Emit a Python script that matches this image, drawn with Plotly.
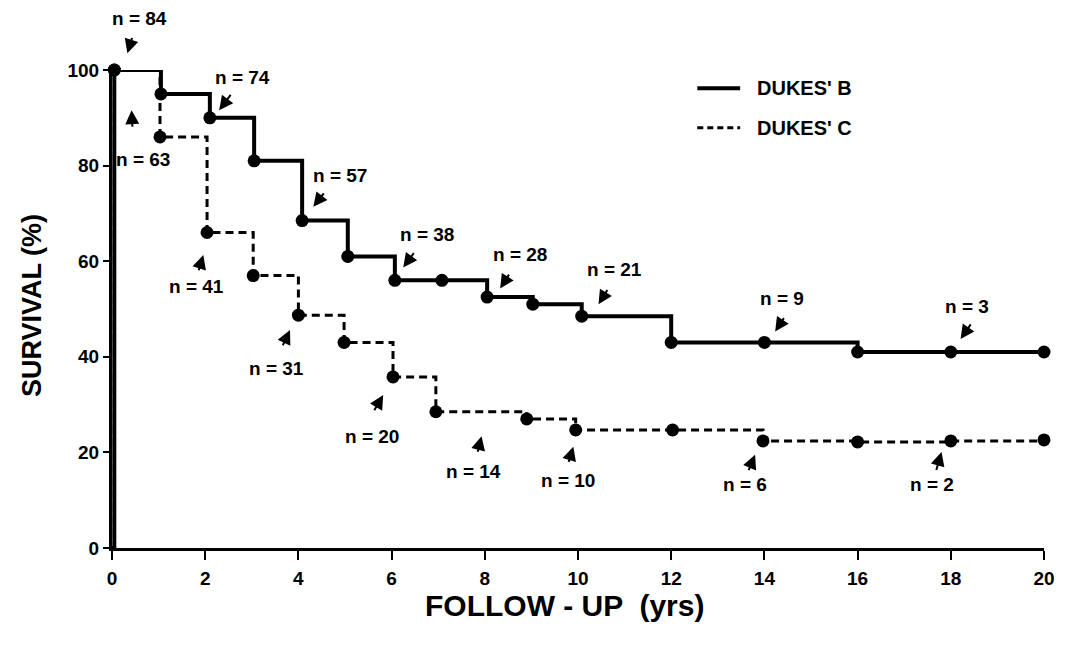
import plotly.graph_objects as go

# ---- data ----
b_time = [0, 0.05, 1.05, 2.1, 3.05, 4.08, 5.06, 6.07, 7.08, 8.05, 9.03, 10.08, 12.0, 14.0, 16.0, 18.0, 20.0]
b_surv = [0, 100, 95, 90, 81, 68.5, 61, 56, 56, 52.5, 51, 48.5, 43, 43, 41, 41, 41]

c_time = [0, 0.05, 1.03, 2.04, 3.03, 4.0, 4.98, 6.03, 6.95, 8.9, 9.95, 12.03, 13.97, 16.0, 18.0, 20.0]
c_surv = [0, 100, 86, 66, 57, 48.7, 43, 35.8, 28.5, 27, 24.7, 24.7, 22.4, 22.2, 22.4, 22.6]

# n labels: text position, arrow tail, arrow head (data coords)
n_text = ["n = 84", "n = 63", "n = 74", "n = 57", "n = 41", "n = 38", "n = 31", "n = 20",
          "n = 28", "n = 14", "n = 21", "n = 10", "n = 9", "n = 6", "n = 3", "n = 2"]
n_x = [0.60, 0.67, 2.81, 4.89, 1.82, 6.75, 3.53, 5.57, 8.76, 7.75, 10.79, 9.79, 14.37, 13.58, 18.34, 17.59]
n_y = [110.8, 81.2, 98.5, 78.0, 54.8, 65.5, 37.6, 23.4, 61.3, 16.0, 58.2, 14.2, 52.2, 13.2, 50.5, 13.2]
tail_x = [0.44, 0.44, 2.57, 4.57, 1.85, 6.50, 3.65, 5.61, 8.54, 7.84, 10.65, 9.79, 14.44, 13.65, 18.45, 17.68]
tail_y = [107.0, 87.8, 95.1, 74.5, 57.8, 62.0, 42.1, 28.5, 57.5, 19.8, 54.3, 17.7, 48.4, 16.0, 47.1, 16.0]
head_x = [0.33, 0.42, 2.30, 4.32, 1.96, 6.25, 3.82, 5.82, 8.33, 7.93, 10.44, 9.90, 14.23, 13.80, 18.21, 17.80]
head_y = [103.5, 91.6, 91.6, 71.4, 61.3, 58.7, 45.6, 32.0, 54.3, 23.4, 51.0, 21.2, 45.3, 19.5, 43.7, 20.1]

x_ticks = [0, 2, 4, 6, 8, 10, 12, 14, 16, 18, 20]
y_ticks = [0, 20, 40, 60, 80, 100]
y_range = [0, 100]
series_names = ["DUKES' B", "DUKES' C"]

FONT = "Liberation Sans, Arial, sans-serif"

fig = go.Figure()

# Dukes' C (dashed)
fig.add_trace(go.Scatter(x=c_time, y=c_surv, mode="lines", line_shape="hv",
                         line=dict(color="black", width=3, dash="8px,5px"),
                         showlegend=False, cliponaxis=False, hoverinfo="skip"))
fig.add_trace(go.Scatter(x=c_time[1:], y=c_surv[1:], mode="markers",
                         marker=dict(color="black", size=13),
                         showlegend=False, cliponaxis=False))
# Dukes' B (solid)
fig.add_trace(go.Scatter(x=b_time, y=b_surv, mode="lines", line_shape="hv",
                         line=dict(color="black", width=4),
                         showlegend=False, cliponaxis=False, hoverinfo="skip"))
fig.add_trace(go.Scatter(x=b_time[1:], y=b_surv[1:], mode="markers",
                         marker=dict(color="black", size=13),
                         showlegend=False, cliponaxis=False))

span = y_range[1] - y_range[0]
annotations = []
for t, x, y, tx, ty, hx, hy in zip(n_text, n_x, n_y, tail_x, tail_y, head_x, head_y):
    # y-domain reference so labels above the top of the axis are still drawn
    annotations.append(dict(x=x, y=(y - y_range[0]) / span, xref="x", yref="y domain",
                            text="<b>%s</b>" % t,
                            showarrow=False, font=dict(family=FONT, size=19, color="black"),
                            xanchor="center", yanchor="middle"))
    annotations.append(dict(x=hx, y=(hy - y_range[0]) / span, xref="x", yref="y domain",
                            ax=tx, ay=(ty - y_range[0]) / span, axref="x", ayref="y domain",
                            text="", showarrow=True, arrowhead=2, arrowsize=1.4, arrowwidth=2,
                            arrowcolor="black"))

# axis titles
annotations.append(dict(x=0.486, y=-0.121, xref="paper", yref="paper", text="<b>FOLLOW - UP  (yrs)</b>",
                        showarrow=False, font=dict(family=FONT, size=30, color="black"),
                        xanchor="center", yanchor="middle"))
annotations.append(dict(x=-0.086, y=0.508, xref="paper", yref="paper", text="<b>SURVIVAL (%)</b>",
                        showarrow=False, textangle=-90, font=dict(family=FONT, size=27, color="black"),
                        xanchor="center", yanchor="middle"))

# legend (manual)
shapes = [
    dict(type="line", xref="paper", yref="paper", x0=0.628, x1=0.674, y0=0.962, y1=0.962,
         line=dict(color="black", width=4)),
    dict(type="line", xref="paper", yref="paper", x0=0.628, x1=0.674, y0=0.879, y1=0.879,
         line=dict(color="black", width=3, dash="6px,4px")),
]
for name, ly in zip(series_names, [0.962, 0.879]):
    annotations.append(dict(x=0.690, y=ly, xref="paper", yref="paper", text="<b>%s</b>" % name,
                            showarrow=False, font=dict(family=FONT, size=20, color="black"),
                            xanchor="left", yanchor="middle"))

fig.update_layout(
    width=1061, height=640,
    margin=dict(l=104, r=25, t=62, b=100),
    paper_bgcolor="white", plot_bgcolor="white",
    annotations=annotations, shapes=shapes,
    showlegend=False,
)
fig.update_xaxes(range=[0, 20], tickvals=x_ticks, ticktext=["<b>%d</b>" % v for v in x_ticks],
                 showline=True, linecolor="black", linewidth=3, showgrid=False, zeroline=False,
                 ticks="outside", ticklen=9, tickwidth=1.5, tickcolor="black",
                 ticklabelstandoff=2,
                 tickfont=dict(family=FONT, size=19, color="black"))
fig.update_yaxes(range=y_range, tickvals=y_ticks, ticktext=["<b>%d</b>" % v for v in y_ticks],
                 showline=True, linecolor="black", linewidth=3, showgrid=False, zeroline=False,
                 ticks="outside", ticklen=6, tickwidth=1.5, tickcolor="black",
                 tickfont=dict(family=FONT, size=19, color="black"))

fig.write_html("out.html")
